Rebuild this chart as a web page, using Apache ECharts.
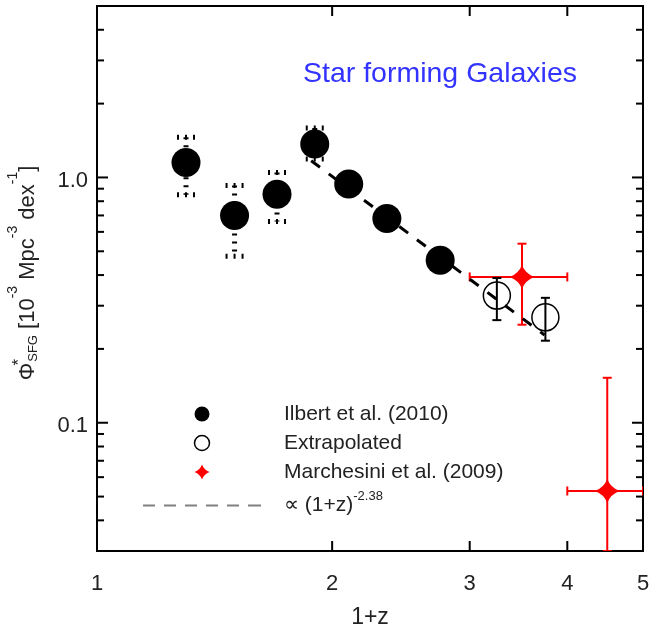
<!DOCTYPE html>
<html>
<head>
<meta charset="utf-8">
<title>Star forming Galaxies</title>
<script src="https://cdn.jsdelivr.net/npm/echarts@6.0.0/dist/echarts.min.js"></script>
<style>
  html, body { margin: 0; padding: 0; background: #fff; }
  #chart { width: 649px; height: 630px; }
</style>
</head>
<body>
<div id="chart"></div>
<script>
'use strict';

// axes: 1+z and phi* (log-log)
var xRange = [1, 5];
var yRange = [0.03, 5];
var xTicks = [1, 2, 3, 4, 5];
var xTickLabels = ['1', '2', '3', '4', '5'];
var yMajorTicks = [0.1, 1];
var yMajorLabels = ['0.1', '1.0'];
var yMinorTicks = [0.04, 0.05, 0.06, 0.07, 0.08, 0.09, 0.2, 0.3, 0.4, 0.5, 0.6, 0.7, 0.8, 0.9, 2, 3, 4];

// Ilbert et al. (2010)
var ilbertX = [1.3, 1.5, 1.7, 1.9, 2.1, 2.35, 2.75];
var ilbertY = [1.15, 0.70, 0.855, 1.37, 0.94, 0.68, 0.46];
var ilbertLo = [0.85, 0.477, 0.662, 1.19, null, null, null];
var ilbertHi = [1.46, 0.928, 1.048, 1.59, null, null, null];

// extrapolated
var extrapX = [3.25, 3.75];
var extrapY = [0.330, 0.269];
var extrapLo = [0.262, 0.216];
var extrapHi = [0.389, 0.323];

// Marchesini et al. (2009)
var marchX = [3.5, 4.5];
var marchY = [0.393, 0.0527];
var marchYLo = [0.251, 0.03];
var marchYHi = [0.537, 0.1525];
var marchXLo = [3.0, 4.0];
var marchXHi = [4.0, 5.0];

// power law ~ (1+z)^-2.38, end points of the drawn segment
var fitX = [1.88, 3.74];
var fitY = [1.17, 0.228];

var FONT = '"Liberation Sans", Arial, Helvetica, sans-serif';
var TEXT = '#222';
var STAR = 'path://M0,-12Q3.2,-3.2,12,0Q3.2,3.2,0,12Q-3.2,3.2,-12,0Q-3.2,-3.2,0,-12Z';
var DASH_ICON = 'path://M0,0h12v2h-12zM21,0h12v2h-12zM42,0h12v2h-12zM63,0h12v2h-12zM84,0h12v2h-12zM105,0h13v2h-13z';

var NAME_ILBERT = 'Ilbert et al. (2010)';
var NAME_EXTRAP = 'Extrapolated';
var NAME_MARCH = 'Marchesini et al. (2009)';
var NAME_FIT = 'fit';

// rows from column arrays, rows with a missing value are dropped
function zip() {
	var cols = Array.prototype.slice.call(arguments);
	var rows = [];
	for (var i = 0; i < cols[0].length; i++) {
		var row = [];
		var ok = true;
		for (var j = 0; j < cols.length; j++) {
			if (cols[j][i] == null) ok = false;
			row.push(cols[j][i]);
		}
		if (ok) rows.push(row);
	}
	return rows;
}

function seg(x1, y1, x2, y2, style) {
	return { type: 'line', shape: { x1: x1, y1: y1, x2: x2, y2: y2 }, style: style };
}

// value = [x, y, yLo, yHi, (xLo, xHi)]
function errorBars(color, width, dash, cap, withX) {
	return function (params, api) {
		var x = api.value(0), y = api.value(1);
		var top = api.coord([x, api.value(3)]);
		var bot = api.coord([x, api.value(2)]);
		var st = { stroke: color, lineWidth: width, lineDash: dash, fill: null };
		var kids = [
			seg(top[0], top[1], bot[0], bot[1], st),
			seg(top[0] - cap, top[1], top[0] + cap, top[1], st),
			seg(bot[0] - cap, bot[1], bot[0] + cap, bot[1], st)
		];
		if (withX) {
			var l = api.coord([api.value(4), y]);
			var r = api.coord([api.value(5), y]);
			kids.push(seg(l[0], l[1], r[0], r[1], st));
			kids.push(seg(l[0], l[1] - cap, l[0], l[1] + cap, st));
			kids.push(seg(r[0], r[1] - cap, r[0], r[1] + cap, st));
		}
		return { type: 'group', children: kids };
	};
}

function labelText(x, y, text, align, vAlign) {
	return {
		type: 'text', x: x, y: y,
		style: { text: text, align: align, verticalAlign: vAlign, fontSize: 22, fontFamily: FONT, fill: TEXT }
	};
}

// ticks on left and right frame
function yTicks(len, labels) {
	return function (params, api) {
		var v = api.value(1);
		var l = api.coord([xRange[0], v]);
		var r = api.coord([xRange[1], v]);
		var st = { stroke: '#000', lineWidth: 2 };
		var kids = [seg(l[0], l[1], l[0] + len, l[1], st), seg(r[0] - len, r[1], r[0], r[1], st)];
		if (labels) kids.push(labelText(l[0] - 9, l[1] + 3, labels[params.dataIndex], 'right', 'middle'));
		return { type: 'group', children: kids };
	};
}

// ticks on bottom and top frame
function xTicksItem(params, api) {
	var v = api.value(0);
	var b = api.coord([v, yRange[0]]);
	var t = api.coord([v, yRange[1]]);
	var st = { stroke: '#000', lineWidth: 2 };
	return {
		type: 'group',
		children: [
			seg(b[0], b[1], b[0], b[1] - 10, st),
			seg(t[0], t[1], t[0], t[1] + 10, st),
			labelText(b[0], b[1] + 33, xTickLabels[params.dataIndex], 'center', 'middle')
		]
	};
}

function customSeries(data, render, extra) {
	var s = { type: 'custom', data: data, renderItem: render, encode: { x: 0, y: 1 }, silent: true };
	for (var k in extra) s[k] = extra[k];
	return s;
}

var chart = echarts.init(document.getElementById('chart'), null, { renderer: 'canvas' });

var option = {
	animation: false,
	backgroundColor: '#fff',
	textStyle: { fontFamily: FONT },
	title: {
		text: 'Star forming Galaxies',
		left: 303, top: 60, padding: 0,
		textStyle: { color: '#3333ff', fontSize: 28.5, fontWeight: 'normal', fontFamily: FONT }
	},
	grid: {
		left: 97, top: 6, width: 546, height: 545,
		containLabel: false, outerBoundsMode: 'none',
		show: true, borderColor: '#000', borderWidth: 2, backgroundColor: 'transparent'
	},
	xAxis: {
		type: 'log', logBase: 10, min: xRange[0], max: xRange[1],
		axisLine: { show: false }, axisTick: { show: false }, axisLabel: { show: false }, splitLine: { show: false }
	},
	yAxis: {
		type: 'log', logBase: 10, min: yRange[0], max: yRange[1],
		axisLine: { show: false }, axisTick: { show: false }, axisLabel: { show: false }, splitLine: { show: false }
	},
	legend: {
		orient: 'vertical', left: 143, top: 403, padding: 0,
		itemWidth: 118, itemHeight: 15, itemGap: 7,
		selectedMode: false,
		data: [
			{ name: NAME_ILBERT, itemStyle: { color: '#000', opacity: 1 } },
			{ name: NAME_EXTRAP, itemStyle: { color: 'transparent', borderColor: '#000', borderWidth: 1.5, opacity: 1 } },
			{ name: NAME_MARCH, itemStyle: { color: '#ff0000', opacity: 1 } },
			{ name: NAME_FIT, icon: DASH_ICON, itemStyle: { color: '#808080', borderWidth: 0, opacity: 1 } }
		],
		formatter: function (name) {
			if (name === NAME_FIT) return '{gap| }\u221D (1+z){sup|-2.38}';
			return '{gap| }' + name;
		},
		textStyle: {
			fontSize: 21, lineHeight: 22, color: TEXT, fontFamily: FONT,
			rich: {
				gap: { width: 18 },
				sup: { fontSize: 13, lineHeight: 22, padding: [0, 0, 18, 0] }
			}
		}
	},
	graphic: [{
		// y axis title, rotated
		type: 'text', x: 28, y: 273, rotation: Math.PI / 2,
		style: {
			text: '\u03A6{star|*}{sub|SFG} [10{sup|-3} Mpc{sup|-3} dex{sup|-1}]',
			fontSize: 22, fontFamily: FONT, fill: TEXT, align: 'center', verticalAlign: 'middle',
			rich: {
				sup: { fontSize: 14, padding: [0, 0, 30, 0] },
				sub: { fontSize: 13, padding: [10, 0, 0, 0] },
				star: { fontSize: 17, width: 1, padding: [0, 0, 18, 0] }
			}
		}
	}, {
		// x axis title
		type: 'text', x: 370, y: 618,
		style: { text: '1+z', fontSize: 23, fontFamily: FONT, fill: TEXT, align: 'center', verticalAlign: 'middle' }
	}],
	series: [
		customSeries(xTicks.map(function (v) { return [v, yRange[0]]; }), xTicksItem, { z: 5 }),
		customSeries(yMajorTicks.map(function (v) { return [xRange[0], v]; }), yTicks(11, yMajorLabels), { z: 5 }),
		customSeries(yMinorTicks.map(function (v) { return [xRange[0], v]; }), yTicks(7, null), { z: 5 }),

		customSeries(zip(marchX, marchY, marchYLo, marchYHi, marchXLo, marchXHi), errorBars('#ff0000', 2, null, 4.5, true), { clip: true }),
		{
			name: NAME_MARCH, type: 'scatter', data: zip(marchX, marchY),
			symbol: STAR, symbolSize: [25, 24], itemStyle: { color: '#ff0000', opacity: 1 }
		},

		customSeries(zip(extrapX, extrapY, extrapLo, extrapHi), errorBars('#000', 2, null, 4.5, false), {}),
		{
			name: NAME_EXTRAP, type: 'scatter', data: zip(extrapX, extrapY),
			symbol: 'circle', symbolSize: 27,
			itemStyle: { color: 'transparent', borderColor: '#000', borderWidth: 1.5, opacity: 1 }
		},

		customSeries(zip(ilbertX, ilbertY, ilbertLo, ilbertHi), errorBars('#000', 5, [2, 6], 9, false), {}),
		{
			name: NAME_FIT, type: 'line', data: zip(fitX, fitY),
			symbol: 'none', lineStyle: { color: '#000', width: 3, type: [11, 11] }
		},
		{
			name: NAME_ILBERT, type: 'scatter', data: zip(ilbertX, ilbertY),
			symbol: 'circle', symbolSize: 29, itemStyle: { color: '#000', opacity: 1 }
		}
	]
};

chart.setOption(option);
</script>
</body>
</html>
